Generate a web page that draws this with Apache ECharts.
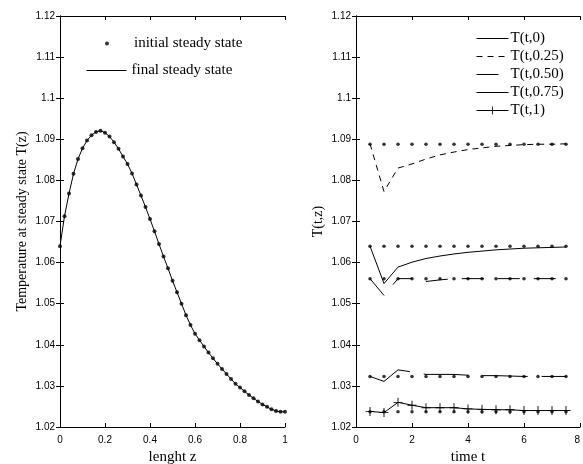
<!DOCTYPE html>
<html><head><meta charset="utf-8">
<script src="https://cdn.jsdelivr.net/npm/echarts@6/dist/echarts.min.js"></script>
<style>html,body{margin:0;padding:0;background:#fff}#c{width:583px;height:464px}</style>
</head><body><div id="c"></div>
<script>
// ---- left panel: steady-state profile ----
const zPos = [0,0.02,0.04,0.06,0.08,0.10,0.12,0.14,0.16,0.18,0.20,0.22,0.24,0.26,0.28,0.30,0.32,0.34,0.36,0.38,0.40,0.42,0.44,0.46,0.48,0.50,0.52,0.54,0.56,0.58,0.60,0.62,0.64,0.66,0.68,0.70,0.72,0.74,0.76,0.78,0.80,0.82,0.84,0.86,0.88,0.90,0.92,0.94,0.96,0.98,1.00];
const tempInitial = [1.0640,1.0713,1.0768,1.0816,1.0852,1.0878,1.0897,1.0910,1.0918,1.0921,1.0916,1.0907,1.0893,1.0877,1.0858,1.0840,1.0817,1.0790,1.0763,1.0735,1.0706,1.0676,1.0645,1.0615,1.0586,1.0556,1.0528,1.0500,1.0472,1.0448,1.0427,1.0411,1.0396,1.0381,1.0367,1.0354,1.0341,1.0329,1.0317,1.0305,1.0296,1.0287,1.0278,1.0270,1.0262,1.0255,1.0249,1.0243,1.0239,1.0237,1.0237];
const tempFinal   = [1.0640,1.0713,1.0768,1.0816,1.0852,1.0878,1.0897,1.0910,1.0918,1.0921,1.0916,1.0907,1.0893,1.0877,1.0858,1.0840,1.0817,1.0790,1.0763,1.0735,1.0706,1.0676,1.0645,1.0615,1.0586,1.0556,1.0528,1.0500,1.0472,1.0448,1.0427,1.0411,1.0396,1.0381,1.0367,1.0354,1.0341,1.0329,1.0317,1.0305,1.0296,1.0287,1.0278,1.0270,1.0262,1.0255,1.0249,1.0243,1.0239,1.0237,1.0237];

// ---- right panel: transients ----
const timeT  = [0.5,1,1.5,2,2.5,3,3.5,4,4.5,5,5.5,6,6.5,7,7.5];
const T_z0   = [1.0640,1.0549,1.0589,1.0601,1.0610,1.0616,1.0621,1.0625,1.0628,1.0631,1.0633,1.0635,1.0636,1.0637,1.0638];
const T_z025 = [1.0889,1.0773,1.0830,1.0840,1.0852,1.0862,1.0869,1.0875,1.0879,1.0883,1.0885,1.0887,1.0888,1.0888,1.0889];
const T_z050 = [1.0561,1.0520,1.0561,1.0561,1.0554,1.0558,1.0561,1.0561,1.0561,1.0561,1.0561,1.0561,1.0561,1.0561,1.0561];
const T_z075 = [1.0323,1.0311,1.0339,1.0334,1.0328,1.0328,1.0328,1.0326,1.0325,1.0325,1.0324,1.0323,1.0323,1.0323,1.0323];
const T_z1   = [1.0238,1.0235,1.0260,1.0253,1.0247,1.0247,1.0247,1.0244,1.0243,1.0242,1.0242,1.0240,1.0240,1.0240,1.0240];
const initLevels = [1.0640,1.0888,1.0561,1.0323,1.0237];

const yTicks = {min:1.02, max:1.12, interval:0.01};
const leftX = {min:0, max:1, interval:0.2};
const rightX = {min:0, max:8, interval:2};

const pair = (xs, ys) => xs.map((x,i)=>[x, ys[i]]);
const initDots = [];
initLevels.forEach(v => timeT.forEach(t => initDots.push([t, v])));

const sans = 'Liberation Sans, Arial, sans-serif';
const serif = 'Liberation Serif, Times New Roman, serif';
const tick = {show:true, inside:true, length:4, lineStyle:{color:'#000', width:1}};
const lab = {color:'#000', fontFamily:sans, fontSize:10};

function xAxisPair(grid, sc, name, fmt, alignMax) {
  return [
    Object.assign({type:'value', gridIndex:grid, position:'bottom', name:name, nameLocation:'middle', nameGap:22,
      nameTextStyle:{color:'#000', fontFamily:serif, fontSize:15},
      axisLine:{show:true, lineStyle:{color:'#000'}}, axisTick:tick, splitLine:{show:false},
      axisLabel:Object.assign({formatter:fmt, margin:8, showMaxLabel:true, showMinLabel:true, hideOverlap:false, alignMaxLabel:alignMax}, lab)}, sc),
    Object.assign({type:'value', gridIndex:grid, position:'top',
      axisLine:{show:true, lineStyle:{color:'#000'}}, axisTick:tick, splitLine:{show:false}, axisLabel:{show:false}}, sc)
  ];
}
function yAxisPair(grid, name, gap) {
  return [
    Object.assign({type:'value', gridIndex:grid, position:'left', name:name, nameLocation:'middle', nameGap:gap,
      nameTextStyle:{color:'#000', fontFamily:serif, fontSize:14},
      axisLine:{show:true, lineStyle:{color:'#000'}}, axisTick:tick, splitLine:{show:false},
      axisLabel:Object.assign({formatter:v=>String(+v.toFixed(2)), margin:5}, lab)}, yTicks),
    Object.assign({type:'value', gridIndex:grid, position:'right',
      axisLine:{show:true, lineStyle:{color:'#000'}}, axisTick:tick, splitLine:{show:false}, axisLabel:{show:false}}, yTicks)
  ];
}

const plusPath = 'path://M4.5,0H5.5V4.5H10V5.5H5.5V10H4.5V5.5H0V4.5H4.5Z';
const legText = {color:'#000', fontFamily:serif, fontSize:15};
const noSym = {color:'rgba(0,0,0,0)', borderWidth:0};
const legLine = {width:1};

const option = {
  animation:false,
  backgroundColor:'#fff',
  grid:[
    {left:60, right:298, top:16, bottom:37, containLabel:false, outerBoundsMode:'none'},
    {left:356, right:3, top:16, bottom:37, containLabel:false, outerBoundsMode:'none'}
  ],
  xAxis:[...xAxisPair(0, leftX, 'lenght z', v=>String(+v.toFixed(1)), 'center'), ...xAxisPair(1, rightX, 'time t', v=>String(v), 'right')],
  yAxis:[...yAxisPair(0, 'Temperature at steady state T(z)', 31), ...yAxisPair(1, 'T(t,z)', 31)],
  legend:[
    {data:['initial steady state'], left:105, top:36, padding:0, itemWidth:4, itemHeight:4, itemGap:0, textStyle:Object.assign({}, legText, {padding:[0,0,0,20]})},
    {data:[{name:'final steady state', itemStyle:noSym}], left:86, top:63, padding:0, itemWidth:40, itemHeight:14, itemGap:0, lineStyle:legLine, textStyle:legText},
    {data:[{name:'T(t,0)', itemStyle:noSym},{name:'T(t,0.25)', itemStyle:noSym},{name:'T(t,0.50)', itemStyle:noSym},{name:'T(t,0.75)', itemStyle:noSym},'T(t,1)'],
     orient:'vertical', left:476, top:31, padding:0, lineStyle:legLine,
     itemWidth:32, itemHeight:10, itemGap:3, textStyle:Object.assign({}, legText, {padding:[0,0,0,-3]})}
  ],
  series:[
    {type:'scatter', name:'initial steady state', xAxisIndex:0, yAxisIndex:0, data:pair(zPos, tempInitial),
     symbol:'circle', symbolSize:4, itemStyle:{color:'#000'}, z:3},
    {type:'line', name:'final steady state', xAxisIndex:0, yAxisIndex:0, data:pair(zPos, tempFinal),
     symbol:'none', lineStyle:{color:'#000', width:1}, itemStyle:{color:'#000'}},
    {type:'scatter', name:'initial values', xAxisIndex:2, yAxisIndex:2, data:initDots,
     symbol:'circle', symbolSize:3.5, itemStyle:{color:'#000'}, z:3},
    {type:'line', name:'T(t,0)', xAxisIndex:2, yAxisIndex:2, data:pair(timeT, T_z0),
     symbol:'none', lineStyle:{color:'#000', width:1}, itemStyle:{color:'#000'}},
    {type:'line', name:'T(t,0.25)', xAxisIndex:2, yAxisIndex:2, data:pair(timeT, T_z025),
     symbol:'none', lineStyle:{color:'#000', width:1, type:[6,5]}, itemStyle:{color:'#000'}},
    {type:'line', name:'T(t,0.50)', xAxisIndex:2, yAxisIndex:2, data:pair(timeT, T_z050),
     symbol:'none', lineStyle:{color:'#000', width:1, type:[22,14]}, itemStyle:{color:'#000'}},
    {type:'line', name:'T(t,0.75)', xAxisIndex:2, yAxisIndex:2, data:pair(timeT, T_z075),
     symbol:'none', lineStyle:{color:'#000', width:1, type:[45,14]}, itemStyle:{color:'#000'}},
    {type:'line', name:'T(t,1)', xAxisIndex:2, yAxisIndex:2, data:pair(timeT, T_z1),
     symbol:plusPath, symbolSize:9, showSymbol:true, lineStyle:{color:'#000', width:1}, itemStyle:{color:'#000'}}
  ]
};
const chart = echarts.init(document.getElementById('c'), null, {renderer:'canvas'});
chart.setOption(option);
</script></body></html>
